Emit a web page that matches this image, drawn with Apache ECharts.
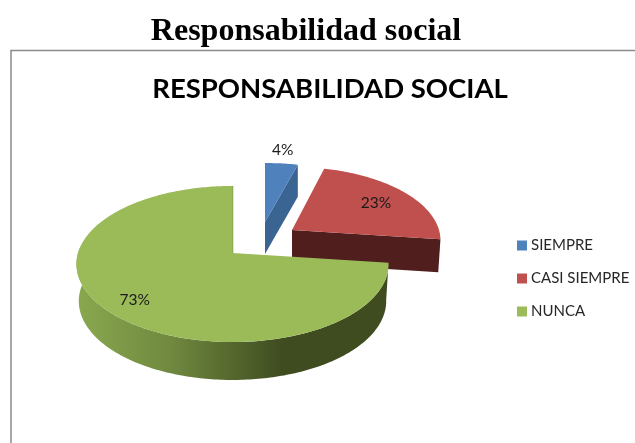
<!DOCTYPE html>
<html>
<head>
<meta charset="utf-8">
<style>html,body{margin:0;padding:0;background:#fff}#c{width:635px;height:443px}</style>
<script src="https://cdn.jsdelivr.net/npm/echarts@6/dist/echarts.min.js"></script>
</head>
<body>
<div id="c"></div>
<script>
var categories = ['SIEMPRE', 'CASI SIEMPRE', 'NUNCA'];
var values = [4, 23, 73];
var labels = ['4%', '23%', '73%'];
var pageTitle = 'Responsabilidad social';
var chartTitle = 'RESPONSABILIDAD SOCIAL';

var topColors = ['#4f81bd', '#c0504d', '#9bbb59'];
var P = 0.141;
var sliceLayouts = [
  {ax: 265, ay: 222, rx: 150, ry: 67.3, depth: 32, bsx: 1, bsy: 1, lf: 1.22, ldx: -2, ldy: -2, face: '#3a6592'},
  {ax: 292, ay: 230, rx: 147, ry: 72, depth: 33, bsx: 0.985, bsy: 1, lf: 0.74, ldx: -1, ldy: 1, face: '#4f1e1d'},
  {ax: 232.5, ay: 253, rx: 154.5, ry: 76.5, depth: 37, bsx: 0.985, bsy: 1.01, lf: 0.79, ldx: 1, ldy: 4, face: null}
];
var total = values.reduce(function (a, b) { return a + b; }, 0);

function proj(l, t, f, bottom) {
  var X = Math.sin(t) * f, Y = -Math.cos(t) * f, s = 1 / (1 - P * Y);
  return [l.ax + l.rx * X * s * (bottom ? l.bsx : 1), l.ay + l.ry * Y * s * (bottom ? l.bsy : 1) + (bottom ? l.depth : 0)];
}
function rim(l, a, b, bottom) {
  var pts = [], n = Math.max(4, Math.round(Math.abs(b - a) * 60));
  for (var i = 0; i <= n; i++) pts.push(proj(l, a + (b - a) * i / n, 1, bottom));
  return pts;
}
function renderSlice(idx) {
  return function (params, api) {
    var before = 0;
    for (var i = 0; i < idx; i++) before += values[i];
    var a = before / total * Math.PI * 2;
    var b = (before + api.value(0)) / total * Math.PI * 2;
    var l = sliceLayouts[idx];
    var children = [];
    if (l.face) {
      var apexTop = [l.ax, l.ay], apexBot = [l.ax, l.ay + l.depth];
      var e1 = proj(l, b, 1, false), e2 = proj(l, b, 1, true);
      children.push({type: 'polygon', shape: {points: [apexTop, e1, e2, apexBot]}, style: {fill: l.face}});
    } else {
      var wallEnd = Math.PI * 1.53;
      var front = rim(l, a, wallEnd, false);
      var back = rim(l, a, wallEnd, true).reverse();
      children.push({
        type: 'polygon',
        shape: {points: front.concat(back)},
        style: {fill: new echarts.graphic.LinearGradient(0, 0, 1, 0, [
          {offset: 0, color: '#8aa84f'},
          {offset: 0.3, color: '#70893f'},
          {offset: 0.66, color: '#3f4c20'},
          {offset: 1, color: '#3f4c20'}
        ])}
      });
      children.push({
        type: 'polyline',
        shape: {points: [[l.ax, l.ay], proj(l, 0, 1, false)]},
        style: {stroke: '#7f9c48', lineWidth: 1.5, fill: null}
      });
    }
    var topPts = [[l.ax, l.ay]].concat(rim(l, a, b, false));
    children.push({type: 'polygon', shape: {points: topPts}, style: {fill: topColors[idx]}});
    var lp = proj(l, (a + b) / 2, l.lf, false);
    children.push({
      type: 'text',
      style: {
        x: lp[0] + l.ldx, y: lp[1] + l.ldy, text: labels[idx], align: 'center', verticalAlign: 'middle',
        fill: '#1a1a1a', font: '15.5px Lato'
      },
      z2: 10
    });
    return {type: 'group', children: children};
  };
}

var series = categories.map(function (name, i) {
  return {
    type: 'custom',
    name: name,
    coordinateSystem: 'none',
    renderItem: renderSlice(i),
    data: [[values[i]]],
    itemStyle: {color: topColors[i]},
    silent: true,
    animation: false,
    z: i + 2
  };
});

var chart = echarts.init(document.getElementById('c'), null, {renderer: 'canvas'});
chart.setOption({
  animation: false,
  backgroundColor: '#fff',
  title: [
    {text: pageTitle, left: 301, top: 11, textAlign: 'center',
      textStyle: {fontFamily: 'Liberation Serif', fontWeight: 'bold', fontSize: 32, color: '#000'}},
    {text: chartTitle, left: 325, top: 70, textAlign: 'center',
      textStyle: {fontFamily: 'Lato', fontWeight: 'bold', fontSize: 27.5, color: '#000'}}
  ],
  legend: {
    orient: 'vertical', left: 512, top: 233, itemWidth: 10, itemHeight: 10, itemGap: 18,
    icon: 'rect', selectedMode: false,
    data: categories,
    textStyle: {fontFamily: 'Lato', fontSize: 15, color: '#262626', padding: [0, 0, 0, -1]}
  },
  graphic: [
    {type: 'polyline', silent: true, shape: {points: [[11, 443], [11, 50.5], [635, 50.5]]},
      style: {stroke: '#8a8a8a', lineWidth: 1.5, fill: null}}
  ],
  series: series
});
</script>
</body>
</html>
